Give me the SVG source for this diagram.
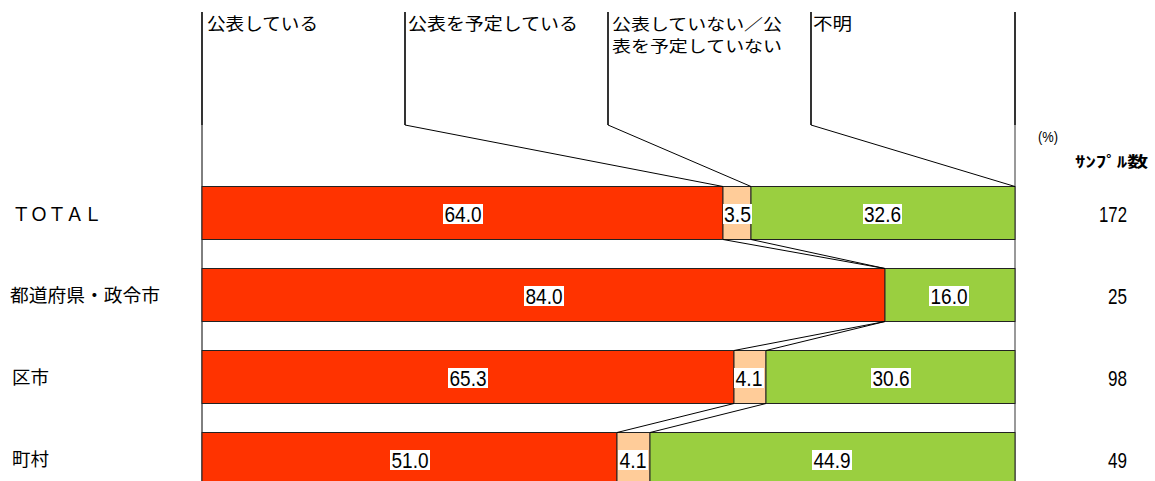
<svg xmlns="http://www.w3.org/2000/svg" width="1155" height="481" viewBox="0 0 1155 481">
<style>
.lg{font-family:"Noto Sans CJK JP","Noto Sans",sans-serif;font-size:17px;fill:#000}
.lg2{font-family:"Noto Sans CJK JP","Noto Sans",sans-serif;font-size:15.5px;fill:#000}
.rl{font-family:"Noto Sans CJK JP","Noto Sans",sans-serif;font-size:18.5px;fill:#000}
.num{font-family:"Liberation Sans",Arial,sans-serif;font-size:22px;fill:#000;text-anchor:middle}
.cnt{font-family:"Liberation Sans",Arial,sans-serif;font-size:22px;fill:#000;text-anchor:end}
.lbg{fill:#fff}
.red{fill:#FF3300;stroke:#222;stroke-width:1}
.pch{fill:#FFCC99;stroke:#222;stroke-width:1}
.grn{fill:#9ACF40;stroke:#222;stroke-width:1}
.ld{stroke:#000;stroke-width:1.6;fill:none}
.cn{stroke:#000;stroke-width:1;fill:none}
</style>
<rect width="1155" height="481" fill="#fff"/>
<g id="legend">
<text class="lg" x="207" y="30" textLength="111" lengthAdjust="spacingAndGlyphs">公表している</text>
<text class="lg" x="408" y="30" textLength="170" lengthAdjust="spacingAndGlyphs">公表を予定している</text>
<text class="lg2" x="612" y="29.5" textLength="170" lengthAdjust="spacingAndGlyphs">公表していない／公</text>
<text class="lg2" x="612" y="52" textLength="170" lengthAdjust="spacingAndGlyphs">表を予定していない</text>
<text class="lg" x="813" y="30" textLength="39" lengthAdjust="spacingAndGlyphs">不明</text>
</g>
<g id="header">
<text x="1038" y="142" font-family="Liberation Sans,sans-serif" font-size="15" textLength="20" lengthAdjust="spacingAndGlyphs">(%)</text>
<text x="1075" y="167" font-family="Noto Sans CJK JP,sans-serif" font-size="15" font-weight="bold" textLength="73" lengthAdjust="spacingAndGlyphs">ｻﾝﾌﾟﾙ数</text>
</g>
<g id="axes">
<line x1="202" y1="125" x2="202" y2="481" stroke="#000" stroke-width="1"/>
<line x1="1015" y1="125" x2="1015" y2="481" stroke="#555" stroke-width="1.2"/>
</g>
<g id="row-total">
<text class="rl" x="12" y="221" font-size="17" textLength="90" lengthAdjust="spacing">ＴＯＴＡＬ</text>
<rect class="red" x="202" y="186.5" width="521" height="53"/>
<rect class="pch" x="723" y="186.5" width="28" height="53"/>
<rect class="grn" x="751" y="186.5" width="264" height="53"/>
<rect class="lbg" x="443" y="204" width="40" height="20"/>
<text class="num" x="463" y="221.5" textLength="37" lengthAdjust="spacingAndGlyphs">64.0</text>
<rect class="lbg" x="723" y="204" width="29" height="20"/>
<text class="num" x="737.5" y="221.5" textLength="27" lengthAdjust="spacingAndGlyphs">3.5</text>
<rect class="lbg" x="863" y="204" width="39" height="20"/>
<text class="num" x="882.5" y="221.5" textLength="37" lengthAdjust="spacingAndGlyphs">32.6</text>
<text class="cnt" x="1127" y="221.5" textLength="28" lengthAdjust="spacingAndGlyphs">172</text>
</g>
<g id="row-pref">
<text class="rl" x="10" y="302" textLength="150" lengthAdjust="spacingAndGlyphs">都道府県・政令市</text>
<rect class="red" x="202" y="268.5" width="683" height="53"/>
<rect class="grn" x="885" y="268.5" width="130" height="53"/>
<rect class="lbg" x="524" y="286" width="40" height="20"/>
<text class="num" x="544" y="303.5" textLength="37" lengthAdjust="spacingAndGlyphs">84.0</text>
<rect class="lbg" x="929" y="286" width="40" height="20"/>
<text class="num" x="949" y="303.5" textLength="37" lengthAdjust="spacingAndGlyphs">16.0</text>
<text class="cnt" x="1127" y="303.5" textLength="19" lengthAdjust="spacingAndGlyphs">25</text>
</g>
<g id="row-city">
<text class="rl" x="12" y="384">区市</text>
<rect class="red" x="202" y="350.5" width="532" height="53"/>
<rect class="pch" x="734" y="350.5" width="32" height="53"/>
<rect class="grn" x="766" y="350.5" width="249" height="53"/>
<rect class="lbg" x="448" y="368" width="40" height="20"/>
<text class="num" x="468" y="385.5" textLength="37" lengthAdjust="spacingAndGlyphs">65.3</text>
<rect class="lbg" x="734" y="368" width="30" height="20"/>
<text class="num" x="749" y="385.5" textLength="27" lengthAdjust="spacingAndGlyphs">4.1</text>
<rect class="lbg" x="871" y="368" width="40" height="20"/>
<text class="num" x="891" y="385.5" textLength="37" lengthAdjust="spacingAndGlyphs">30.6</text>
<text class="cnt" x="1127" y="385.5" textLength="19" lengthAdjust="spacingAndGlyphs">98</text>
</g>
<g id="row-town">
<text class="rl" x="12" y="466">町村</text>
<rect class="red" x="202" y="432.5" width="415" height="53"/>
<rect class="pch" x="617" y="432.5" width="33" height="53"/>
<rect class="grn" x="650" y="432.5" width="365" height="53"/>
<rect class="lbg" x="390" y="450" width="40" height="20"/>
<text class="num" x="410" y="467.5" textLength="37" lengthAdjust="spacingAndGlyphs">51.0</text>
<rect class="lbg" x="618" y="450" width="30" height="20"/>
<text class="num" x="633" y="467.5" textLength="27" lengthAdjust="spacingAndGlyphs">4.1</text>
<rect class="lbg" x="812" y="450" width="40" height="20"/>
<text class="num" x="832" y="467.5" textLength="37" lengthAdjust="spacingAndGlyphs">44.9</text>
<text class="cnt" x="1127" y="467.5" textLength="19" lengthAdjust="spacingAndGlyphs">49</text>
</g>
<g id="connectors">
<line class="ld" x1="202" y1="12" x2="202" y2="125"/>
<polyline class="ld" points="405,12 405,125"/>
<polyline class="ld" points="608,12 608,125"/>
<polyline class="ld" points="811,12 811,125"/>
<polyline class="ld" points="1015,12 1015,125"/>
<line class="cn" x1="405" y1="125" x2="723" y2="186.5"/>
<line class="cn" x1="608" y1="125" x2="751" y2="186.5"/>
<line class="cn" x1="811" y1="125" x2="1015" y2="186.5"/>
<line class="cn" x1="723" y1="239.5" x2="885" y2="268.5"/>
<line class="cn" x1="751" y1="239.5" x2="885" y2="268.5"/>
<line class="cn" x1="885" y1="321.5" x2="734" y2="350.5"/>
<line class="cn" x1="885" y1="321.5" x2="766" y2="350.5"/>
<line class="cn" x1="734" y1="403.5" x2="617" y2="432.5"/>
<line class="cn" x1="766" y1="403.5" x2="650" y2="432.5"/>
</g>
</svg>
